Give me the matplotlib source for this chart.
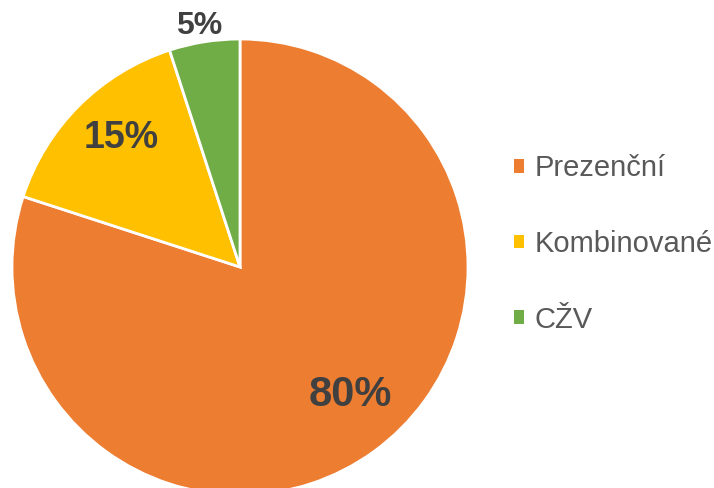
import matplotlib
matplotlib.use("Agg")
import matplotlib.pyplot as plt

# study modes and their shares
labels = ["Prezenční", "Kombinované", "CŽV"]
shares = [80, 15, 5]
colors = ["#ED7D31", "#FFC000", "#70AD47"]

plt.rcParams["font.family"] = ["Liberation Sans", "DejaVu Sans"]

W, H = 714, 488
fig = plt.figure(figsize=(W / 100, H / 100), dpi=100)

# pie centre at (240, 267) px from top-left, radius 228 px
cx, cy, r = 240, 267, 228
ax = fig.add_axes([(cx - r) / W, (H - cy - r) / H, 2 * r / W, 2 * r / H])

wedges, _ = ax.pie(shares, colors=colors, startangle=90, counterclock=False,
                   radius=1, wedgeprops=dict(edgecolor="white", linewidth=2))
ax.set_xlim(-1, 1)
ax.set_ylim(-1, 1)
ax.axis("off")

# data labels (positions in data units, sizes differ like the source)
lab_pos = [(0.485, -0.56), (-0.52, 0.565), (-0.18, 1.055)]
lab_size = [30, 27, 23]
for v, (x, y), s in zip(shares, lab_pos, lab_size):
    ax.text(x, y, f"{v}%", ha="center", va="center", fontsize=s,
            fontweight="bold", color="#404040", clip_on=False)

leg = fig.legend(wedges, labels, loc="center left",
                 bbox_to_anchor=(488 / W, 1 - 244 / H), frameon=False,
                 fontsize=21, labelcolor="#595959", handlelength=0.35,
                 handleheight=0.35, handletextpad=0.35, labelspacing=1.63)
for h in leg.legend_handles:
    h.set_edgecolor("none")

fig.savefig("out.png", dpi=100)
